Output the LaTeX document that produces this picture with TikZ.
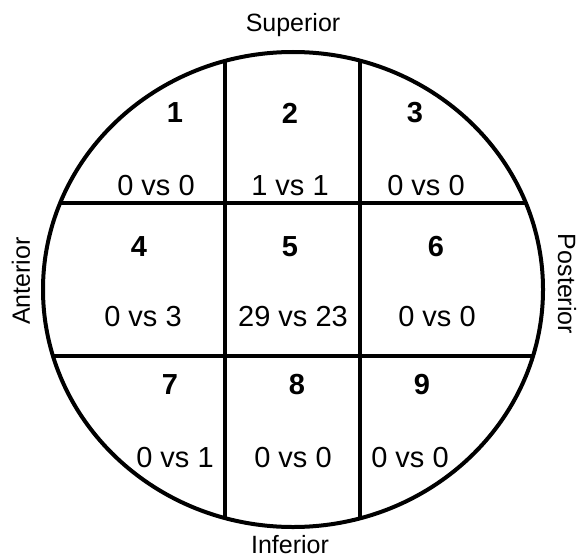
\documentclass[tikz,border=0pt]{standalone}
\usepackage{fontspec}
\setmainfont{Liberation Sans}
\begin{document}
\begin{tikzpicture}[x=1pt,y=-1pt,
  num/.style={font=\fontsize{29}{32}\selectfont\bfseries, inner sep=0pt},
  val/.style={font=\fontsize{29}{32}\selectfont, inner sep=0pt},
  side/.style={font=\fontsize{25}{28}\selectfont, inner sep=0pt},
  thickline/.style={line width=4pt}]
\useasboundingbox (0,0) rectangle (580,559);
\begin{scope}
  \clip (293,289.5) ellipse [x radius=250, y radius=237.5];
  \draw[thickline] (0,203) -- (580,203);
  \draw[thickline] (0,356) -- (580,356);
  \draw[thickline] (225,0) -- (225,559);
  \draw[thickline] (360,0) -- (360,559);
\end{scope}
\draw[thickline] (293,289.5) ellipse [x radius=250, y radius=237.5];
% numbers
\node[num] (n1) at (175,113) {1};
\node[num] (n2) at (290,113) {2};
\node[num] (n3) at (415,113) {3};
\node[num] (n4) at (139,247) {4};
\node[num] (n5) at (290,247) {5};
\node[num] (n6) at (436,247) {6};
\node[num] (n7) at (170,385) {7};
\node[num] (n8) at (297,385) {8};
\node[num] (n9) at (422,385) {9};
% values
\node[val] (v1) at (156,186) {0 vs 0};
\node[val] (v2) at (290,186) {1 vs 1};
\node[val] (v3) at (426,186) {0 vs 0};
\node[val] (v4) at (143,317) {0 vs 3};
\node[val] (v5) at (293,317) {29 vs 23};
\node[val] (v6) at (437,317) {0 vs 0};
\node[val] (v7) at (175,458) {0 vs 1};
\node[val] (v8) at (293,458) {0 vs 0};
\node[val] (v9) at (410,458) {0 vs 0};
% sides
\node[side] (sup) at (293,25) {Superior};
\node[side] (inf) at (290,545) {Inferior};
\node[side, rotate=90] (ant) at (21,281) {Anterior};
\node[side, rotate=-90] (post) at (567,284) {Posterior};
\end{tikzpicture}
\end{document}
